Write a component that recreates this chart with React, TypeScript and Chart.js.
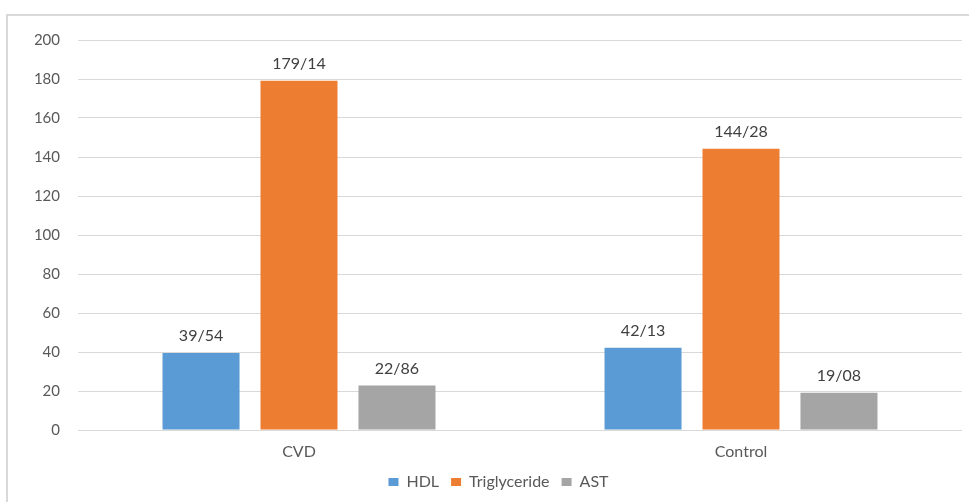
import React, { useEffect, useRef } from "react";
import { Chart, registerables } from "chart.js";
Chart.register(...registerables);

const categories = ["CVD", "Control"];
const seriesNames = ["HDL", "Triglyceride", "AST"];
const hdl = [39.54, 42.13];
const triglyceride = [179.14, 144.28];
const ast = [22.86, 19.08];
const yMin = 0;
const yMax = 200;
const yStep = 20;
const colors = ["#5B9BD5", "#ED7D31", "#A5A5A5"];

const FONT = "Lato, 'Open Sans', sans-serif";

const fmt = (v: number) => v.toFixed(2).replace(".", "/");

const frameAndLabels = {
  id: "frameAndLabels",
  beforeDraw(chart: any) {
    const ctx = chart.ctx;
    ctx.save();
    ctx.fillStyle = "#ffffff";
    ctx.fillRect(0, 0, chart.width, chart.height);
    ctx.fillStyle = "#D9D9D9";
    ctx.fillRect(6, 14, 2, chart.height - 14);
    ctx.fillRect(6, 14, chart.width - 6, 2);
    ctx.restore();
  },
  afterDatasetsDraw(chart: any) {
    const ctx = chart.ctx;
    ctx.save();
    ctx.font = `16px ${FONT}`;
    ctx.fillStyle = "#404040";
    ctx.textAlign = "center";
    ctx.textBaseline = "middle";
    chart.data.datasets.forEach((ds: any, i: number) => {
      const meta = chart.getDatasetMeta(i);
      meta.data.forEach((bar: any, j: number) => {
        ctx.fillText(fmt(ds.data[j]), bar.x, bar.y - 17);
      });
    });
    ctx.restore();
  },
};

export default function App() {
  const ref = useRef<HTMLCanvasElement | null>(null);
  useEffect(() => {
    document.body.style.margin = "0";
    const series = [hdl, triglyceride, ast];
    const chart = new Chart(ref.current as HTMLCanvasElement, {
      type: "bar",
      data: {
        labels: categories,
        datasets: seriesNames.map((name, i) => ({
          label: name,
          data: series[i],
          backgroundColor: colors[i],
          borderWidth: 0,
          categoryPercentage: 0.665,
          barPercentage: 0.786,
        })),
      },
      options: {
        responsive: false,
        animation: false,
        layout: { padding: { left: 35, right: 7, top: 40, bottom: 2 } },
        plugins: {
          tooltip: { enabled: false },
          legend: {
            position: "bottom",
            labels: {
              boxWidth: 10,
              boxHeight: 8,
              padding: 12,
              color: "#595959",
              font: { family: FONT, size: 16 },
            },
          },
        },
        scales: {
          x: {
            grid: { display: false, drawTicks: false },
            border: { display: false },
            ticks: { color: "#595959", font: { family: FONT, size: 16 }, padding: 12 },
            afterFit: (s: any) => { s.height = 32; },
          },
          y: {
            min: yMin,
            max: yMax,
            grid: { color: "#D9D9D9", lineWidth: 1, drawTicks: false },
            border: { display: false },
            ticks: {
              stepSize: yStep,
              color: "#595959",
              font: { family: FONT, size: 15 },
              padding: 18,
            },
            afterFit: (s: any) => { s.width = 43; },
          },
        },
      },
      plugins: [frameAndLabels],
    });
    return () => chart.destroy();
  }, []);
  return <canvas ref={ref} width={969} height={502} />;
}
